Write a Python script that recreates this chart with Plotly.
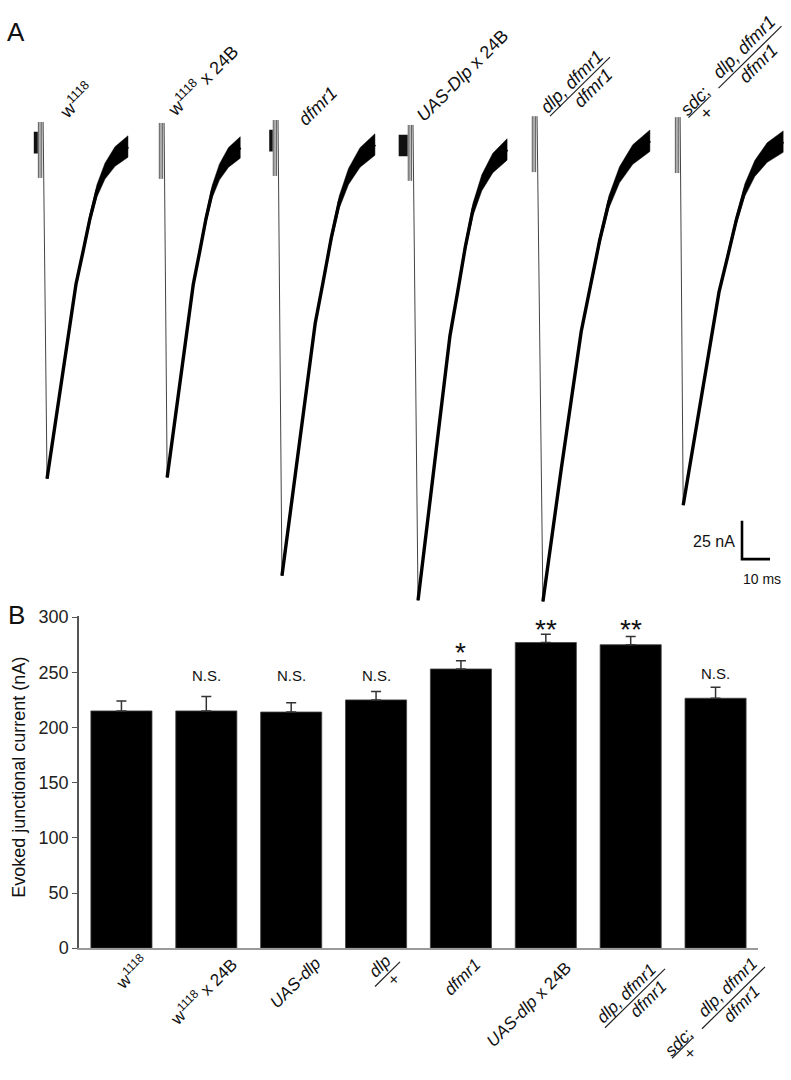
import plotly.graph_objects as go

WIN_W, WIN_H = 791, 1080
FW, FH = WIN_W, WIN_H
FONT = "Liberation Sans, Arial, sans-serif"

# ---------------- Panel B data ----------------
genotypes = ["w1118", "w1118 x 24B", "UAS-dlp", "dlp/+", "dfmr1",
             "UAS-dlp x 24B", "dlp, dfmr1/dfmr1", "sdc/+; dlp, dfmr1/dfmr1"]
current_nA = [215, 215, 214, 225, 253, 277, 275, 226.5]
sem_nA = [9, 13, 8.5, 7.5, 7.5, 7.5, 7.5, 10]
significance = ["", "N.S.", "N.S.", "N.S.", "*", "**", "**", "N.S."]
y_ticks = [0, 50, 100, 150, 200, 250, 300]

# ---------------- Panel A data (representative traces) ----------------
trace_names = ["w1118", "w1118 x 24B", "dfmr1", "UAS-Dlp x 24B",
               "dlp, dfmr1/dfmr1", "sdc/+; dlp, dfmr1/dfmr1"]
trace_onset_ms = [15.4, 58.6, 99.3, 147.5, 191.8, 242.9]
trace_base_nA = [0.0, -0.6, 1.3, -1.9, 3.8, 3.2]
trace_peak_nA = [216.7, 215.4, 281.4, 294.2, 300.6, 237.2]
trace_rise_ms = [1.4, 1.1, 1.4, 1.8, 2.1, 1.1]
trace_decay_ms = [28.9, 26.1, 33.2, 31.8, 38.2, 35.7]
# normalised decay shape
decay_t_frac = [0, 0.173, 0.358, 0.444, 0.531, 0.617, 0.716, 0.840, 1.0]
decay_i_frac = [1, 0.710, 0.414, 0.317, 0.216, 0.133, 0.074, 0.030, 0]
noise_half_nA = [0.0, 0.4, 1.0, 1.8, 2.8, 4.0, 5.2, 6.4, 7.0]
# stimulus artefact: thin deflections (time from onset ms, top nA, bottom nA)
artefact_lines = [(-1.7, 16, -20.5), (-1.1, 16, -20.5), (-0.5, 16, -20.5)]
# dark artefact block per trace: (width px, top nA, bottom nA); 0 = none
artefact_block_px = [4, 0, 3.5, 9, 0, 0]
artefact_block_nA = (9.6, -4.5)

PX_PER_MS = 2.8
PX_PER_NA = 1.56
B_PX_PER_UNIT = (956 - 619) / 300.0


def px(x):
    return x / FW


def py(y):
    return 1 - y / FH


fig = go.Figure()

# ---- Panel B bars ----
xcat = list(range(len(genotypes)))
fig.add_trace(go.Bar(
    x=xcat, y=current_nA, width=0.72,
    marker=dict(color="black", line=dict(color="#444", width=0.8)),
    error_y=dict(type="data", array=sem_nA, arrayminus=[0] * len(sem_nA),
                 symmetric=False, color="#333", thickness=1.5, width=5),
    xaxis="x", yaxis="y", showlegend=False, hoverinfo="skip"))

# ---- Panel A traces ----
for i in range(len(trace_names)):
    t0 = trace_onset_ms[i]
    b = trace_base_nA[i]
    bw = artefact_block_px[i]
    if bw:
        tb = t0 - 1.9 - bw / 2 / PX_PER_MS
        fig.add_trace(go.Scatter(
            x=[tb, tb], y=[b + artefact_block_nA[0], b + artefact_block_nA[1]],
            mode="lines", line=dict(color="#111", width=bw),
            xaxis="x2", yaxis="y2", showlegend=False, hoverinfo="skip"))
    for dt, top, bot in artefact_lines:
        fig.add_trace(go.Scatter(
            x=[t0 + dt, t0 + dt], y=[b + top, b + bot], mode="lines",
            line=dict(color="#555", width=1.0),
            xaxis="x2", yaxis="y2", showlegend=False, hoverinfo="skip"))
    tp = t0 + trace_rise_ms[i]
    fig.add_trace(go.Scatter(
        x=[t0, tp], y=[b + 16, b - trace_peak_nA[i]], mode="lines",
        line=dict(color="#444", width=1),
        xaxis="x2", yaxis="y2", showlegend=False, hoverinfo="skip"))
    ts = [tp + f * trace_decay_ms[i] for f in decay_t_frac]
    cen = [b - trace_peak_nA[i] * f for f in decay_i_frac]
    up = [c + h for c, h in zip(cen, noise_half_nA)]
    lo = [c - h for c, h in zip(cen, noise_half_nA)]
    fig.add_trace(go.Scatter(
        x=ts + ts[::-1], y=up + lo[::-1], mode="lines", fill="toself",
        fillcolor="black", line=dict(color="black", width=0.5),
        xaxis="x2", yaxis="y2", showlegend=False, hoverinfo="skip"))
    fig.add_trace(go.Scatter(
        x=ts, y=cen, mode="lines", line=dict(color="black", width=3.4),
        xaxis="x2", yaxis="y2", showlegend=False, hoverinfo="skip"))

# scale bar (25 nA, 10 ms)
sb_t, sb_i = 742 / PX_PER_MS, (140 - 560) / PX_PER_NA
fig.add_trace(go.Scatter(
    x=[sb_t, sb_t, sb_t + 10], y=[sb_i + 25, sb_i, sb_i], mode="lines",
    line=dict(color="black", width=2.6), xaxis="x2", yaxis="y2",
    showlegend=False, hoverinfo="skip"))

ann = []
shapes = []


def text(x, y, s, size=17, angle=-45, xa="center", ya="middle", color="#111"):
    ann.append(dict(x=px(x), y=py(y), xref="paper", yref="paper", text=s,
                    showarrow=False, textangle=angle, xanchor=xa, yanchor=ya,
                    font=dict(family=FONT, size=size, color=color)))


def fline(x0, y0, x1, y1):
    shapes.append(dict(type="line", xref="paper", yref="paper",
                       x0=px(x0), y0=py(y0), x1=px(x1), y1=py(y1),
                       line=dict(color="#222", width=1.2)))


# panel letters
text(16, 23, "A", size=26, angle=0)
text(16, 617, "B", size=26, angle=0)

# scale bar labels
text(737, 542, "25 nA", size=16, angle=0, xa="right")
text(762, 580, "10 ms", size=14, angle=0)

# Panel A labels
A = 18
text(76, 93, "w<sup>1118</sup>", A)
text(202, 73, "w<sup>1118</sup> x 24B", A)
text(318, 99, "<i>dfmr1</i>", A)
text(462, 68, "<i>UAS-Dlp</i> x 24B", A)
text(571.5, 74.5, "<i>dlp, dfmr1</i>", A)
fline(550, 109, 610, 49)
text(593, 80.5, "<i>dfmr1</i>", A)
text(695, 94, "<i>sdc</i>;", A)
fline(688.5, 110.5, 709.5, 89.5)
text(706.5, 105.5, "+", A)
text(744, 38.5, "<i>dlp, dfmr1</i>", A)
fline(718.5, 80.5, 781.5, 17.5)
text(757.5, 55.5, "<i>dfmr1</i>", A)

# Panel B category labels
text(131, 980, "w<sup>1118</sup>")
text(203, 1000, "w<sup>1118</sup> x 24B")
text(295, 992, "<i>UAS-dlp</i>")
text(380, 975, "<i>dlp</i>")
fline(375, 995, 400, 970)
text(394, 988, "+")
text(462, 986, "<i>dfmr1</i>")
text(529, 1013, "<i>UAS-dlp</i> x 24B")
text(626.5, 1002.5, "<i>dlp, dfmr1</i>")
fline(605, 1037, 665, 977)
text(648, 1008.5, "<i>dfmr1</i>")
text(678.5, 1051.5, "<i>sdc</i>;")
fline(672, 1068, 693, 1047)
text(690, 1063, "+")
text(727.5, 996, "<i>dlp, dfmr1</i>")
fline(702, 1038, 765, 975)
text(741, 1013, "<i>dfmr1</i>")

# y-axis title
text(19.5, 782, "Evoked junctional current (nA)", size=18, angle=-90)

# significance marks
sig_level = {"N.S.": 247, "*": 268, "**": 289}
sig_size = {"N.S.": 15, "*": 28, "**": 28}
for i, s in enumerate(significance):
    if not s:
        continue
    yv = sig_level[s] + (2 if i == 7 else 0)
    ann.append(dict(x=i, y=yv, xref="x", yref="y", text=s, showarrow=False,
                    xanchor="center", yanchor="middle",
                    font=dict(family=FONT, size=sig_size[s], color="#111")))

y_top = 301
fig.update_layout(
    width=FW, height=FH, margin=dict(l=0, r=0, t=0, b=0),
    paper_bgcolor="white", plot_bgcolor="rgba(0,0,0,0)",
    annotations=ann, shapes=shapes, hovermode=False,
    xaxis=dict(domain=[px(79), px(758)], range=[-0.5, 7.5], anchor="y",
               showline=True, linecolor="#9a9a9a", linewidth=1.5,
               showticklabels=False, ticks="", showgrid=False, zeroline=False,
               fixedrange=True),
    yaxis=dict(domain=[py(956), py(956 - y_top * B_PX_PER_UNIT)],
               range=[0, y_top], anchor="x",
               showline=True, linecolor="#555", linewidth=1.5,
               ticks="outside", ticklen=5, tickcolor="#555", tickwidth=1.2,
               tickvals=y_ticks, tickfont=dict(family=FONT, size=18, color="#222"),
               showgrid=False, zeroline=False, fixedrange=True),
    xaxis2=dict(domain=[0, 1], range=[0, WIN_W / PX_PER_MS],
                anchor="y2", visible=False, fixedrange=True),
    yaxis2=dict(domain=[py(612), 1],
                range=[-(612 - 140) / PX_PER_NA, 140 / PX_PER_NA],
                anchor="x2", visible=False, fixedrange=True),
)

fig.write_html("out.html", config={"displayModeBar": False},
               post_script="document.body.style.margin='0';"
                           "document.body.style.overflow='hidden';")
